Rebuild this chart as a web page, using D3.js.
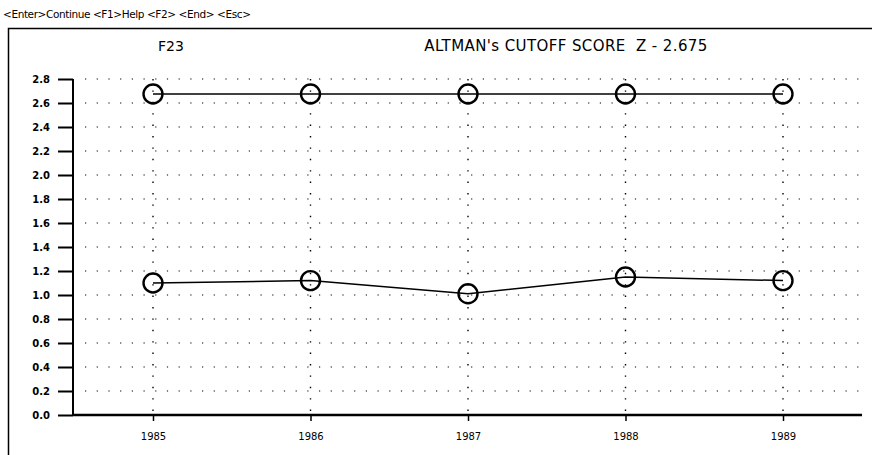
<!DOCTYPE html>
<html>
<head>
<meta charset="utf-8">
<script src="https://cdn.jsdelivr.net/npm/d3@7"></script>
<style>
  body { margin: 0; background: #fff; }
  svg { display: block; }
  text { font-family: "DejaVu Sans", sans-serif; fill: #000; }
</style>
</head>
<body>
<svg width="872" height="455"></svg>
<script>
// data
let years = ["1985", "1986", "1987", "1988", "1989"]
let cutoff = [2.675, 2.675, 2.675, 2.675, 2.675]
let zscore = [1.10, 1.12, 1.01, 1.15, 1.12]
let yTicks = [0.0, 0.2, 0.4, 0.6, 0.8, 1.0, 1.2, 1.4, 1.6, 1.8, 2.0, 2.2, 2.4, 2.6, 2.8]

let svg = d3.select("svg")
let margin = {top: 79, right: 10, bottom: 40, left: 73}
let width = 862 - margin.left
let height = 415 - margin.top

let x = d3.scalePoint().domain(years).range([80, 710])
let y = d3.scaleLinear().domain([0, 2.8]).range([height, 0])

// menu line and frame
svg.append("text")
    .attr("x", 3).attr("y", 18)
    .style("font-size", "10.5px")
    .style("letter-spacing", "-0.4px")
    .text("<Enter>Continue <F1>Help <F2> <End> <Esc>")

svg.append("path")
    .attr("d", "M8.5,455 V28.5 H872")
    .attr("fill", "none").attr("stroke", "#000").attr("stroke-width", 1.5)

svg.append("text")
    .attr("x", 171).attr("y", 51)
    .attr("text-anchor", "middle")
    .style("font-size", "14px")
    .text("F23")

svg.append("text")
    .attr("x", 566).attr("y", 51)
    .attr("text-anchor", "middle")
    .style("font-size", "15px")
    .style("letter-spacing", "0.4px")
    .style("white-space", "pre")
    .text("ALTMAN's CUTOFF SCORE  Z - 2.675")

let g = svg.append("g")
    .attr("transform", "translate(" + margin.left + "," + margin.top + ")")

// dotted grid
g.selectAll(".hgrid")
  .data(yTicks.slice(1))
  .enter().append("line")
    .attr("class", "hgrid")
    .attr("x1", 12).attr("x2", width - 2)
    .attr("y1", d=>y(d)).attr("y2", d=>y(d))
    .attr("stroke", "#000").attr("stroke-width", 1.2)
    .attr("stroke-dasharray", "1.2,10.5")

g.selectAll(".vgrid")
  .data(years)
  .enter().append("line")
    .attr("class", "vgrid")
    .attr("x1", d=>x(d)).attr("x2", d=>x(d))
    .attr("y1", 0).attr("y2", height)
    .attr("stroke", "#000").attr("stroke-width", 1.4)
    .attr("stroke-dasharray", "1.4,10")

// axes
let yAxis = g.append("g")
    .call(d3.axisLeft(y).tickValues(yTicks).tickSize(15).tickPadding(8).tickFormat(d3.format(".1f")))
yAxis.select(".domain").attr("stroke-width", 2).attr("d", "M0," + y(2.8) + "V" + height)
yAxis.selectAll(".tick line").attr("stroke-width", 2)
yAxis.selectAll(".tick text")
    .style("font-size", "10px").style("font-weight", "bold")
    .style("font-family", "DejaVu Sans, sans-serif")

let xAxis = g.append("g")
    .attr("transform", "translate(0," + height + ")")
    .call(d3.axisBottom(x).tickSize(6).tickPadding(12))
xAxis.select(".domain").attr("stroke-width", 2.5).attr("d", "M0,0H" + width)
xAxis.selectAll(".tick line").attr("stroke-width", 1.5)
xAxis.selectAll(".tick text")
    .style("font-size", "10px")
    .style("font-family", "DejaVu Sans, sans-serif")

// series
let line = d3.line().x((d, i)=>x(years[i])).y(d=>y(d))

;[cutoff, zscore].forEach(series=>{
  g.append("path")
      .datum(series)
      .attr("d", line)
      .attr("fill", "none").attr("stroke", "#000").attr("stroke-width", 1.5)

  g.selectAll(null)
    .data(series)
    .enter().append("circle")
      .attr("cx", (d, i)=>x(years[i]))
      .attr("cy", d=>y(d))
      .attr("r", 9.5)
      .attr("fill", "none")
      .attr("stroke", "#000").attr("stroke-width", 2.4)
})
</script>
</body>
</html>
